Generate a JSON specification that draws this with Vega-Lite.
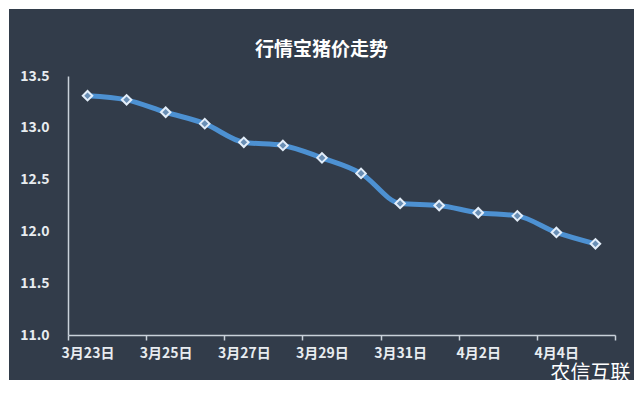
{
  "$schema": "https://vega.github.io/schema/vega-lite/v6.json",
  "width": 625,
  "height": 371,
  "autosize": {"type": "none"},
  "padding": {"left": 9, "top": 9, "right": 7, "bottom": 15},
  "background": "#ffffff",
  "config": {
    "view": {"fill": "#323c4a", "stroke": null},
    "font": "Noto Sans CJK SC"
  },
  "title": {
    "text": "行情宝猪价走势",
    "color": "#ffffff",
    "fontSize": 19,
    "fontWeight": "bold",
    "font": "Noto Sans CJK SC",
    "anchor": "middle",
    "baseline": "middle",
    "offset": 0,
    "dy": 60
  },
  "data": {
    "values": [
      {"date": "2022-03-23T00:00:00", "price": 13.31},
      {"date": "2022-03-24T00:00:00", "price": 13.27},
      {"date": "2022-03-25T00:00:00", "price": 13.15},
      {"date": "2022-03-26T00:00:00", "price": 13.04},
      {"date": "2022-03-27T00:00:00", "price": 12.86},
      {"date": "2022-03-28T00:00:00", "price": 12.83},
      {"date": "2022-03-29T00:00:00", "price": 12.71},
      {"date": "2022-03-30T00:00:00", "price": 12.56},
      {"date": "2022-03-31T00:00:00", "price": 12.27},
      {"date": "2022-04-01T00:00:00", "price": 12.25},
      {"date": "2022-04-02T00:00:00", "price": 12.18},
      {"date": "2022-04-03T00:00:00", "price": 12.15},
      {"date": "2022-04-04T00:00:00", "price": 11.99},
      {"date": "2022-04-05T00:00:00", "price": 11.88}
    ]
  },
  "encoding": {
    "x": {
      "field": "date",
      "type": "temporal",
      "scale": {
        "domain": [
          {"year": 2022, "month": 3, "date": 22, "hours": 12},
          {"year": 2022, "month": 4, "date": 5, "hours": 12}
        ],
        "range": [59, 606],
        "nice": false
      },
      "axis": {
        "values": [
          {"year": 2022, "month": 3, "date": 22, "hours": 12},
          {"year": 2022, "month": 3, "date": 24, "hours": 12},
          {"year": 2022, "month": 3, "date": 26, "hours": 12},
          {"year": 2022, "month": 3, "date": 28, "hours": 12},
          {"year": 2022, "month": 3, "date": 30, "hours": 12},
          {"year": 2022, "month": 4, "date": 1, "hours": 12},
          {"year": 2022, "month": 4, "date": 3, "hours": 12},
          {"year": 2022, "month": 4, "date": 5, "hours": 12}
        ],
        "labelExpr": "toNumber(datum.value) > toNumber(datetime(2022, 3, 5, 0, 0)) ? '' : timeFormat(toNumber(datum.value) + 43200000, '%-m月%-d日')",
        "labelOffset": 19.5,
        "labelOverlap": false,
        "labelBound": false,
        "labelFlush": false,
        "labelFontSize": 14,
        "labelFontWeight": "bold",
        "labelColor": "#e8ecf0",
        "labelPadding": 6,
        "tickSize": 5,
        "tickColor": "#c9d1da",
        "tickWidth": 1.5,
        "domainColor": "#c9d1da",
        "domainWidth": 1.5,
        "grid": false,
        "offset": -45,
        "title": "农信互联",
        "titleX": 621,
        "titleY": 38,
        "titleAlign": "right",
        "titleBaseline": "middle",
        "titleFontSize": 20,
        "titleFontWeight": "normal",
        "titleColor": "#ffffff"
      }
    },
    "y": {
      "field": "price",
      "type": "quantitative",
      "scale": {"domain": [11, 13.5], "range": [326, 67], "nice": false, "zero": false},
      "axis": {
        "values": [11, 11.5, 12, 12.5, 13, 13.5],
        "format": ".1f",
        "ticks": false,
        "grid": false,
        "labelPadding": 19,
        "labelFontSize": 14,
        "labelFontWeight": "bold",
        "labelColor": "#e8ecf0",
        "domainColor": "#c9d1da",
        "domainWidth": 1.5,
        "title": null,
        "offset": -59
      }
    }
  },
  "layer": [
    {
      "mark": {"type": "line", "color": "#4d91d2", "strokeWidth": 5, "interpolate": "monotone"}
    },
    {
      "mark": {"type": "point", "shape": "diamond", "filled": true, "size": 90, "fill": "#6a8fb5", "stroke": "#e3eefa", "strokeWidth": 2, "opacity": 1}
    }
  ]
}
